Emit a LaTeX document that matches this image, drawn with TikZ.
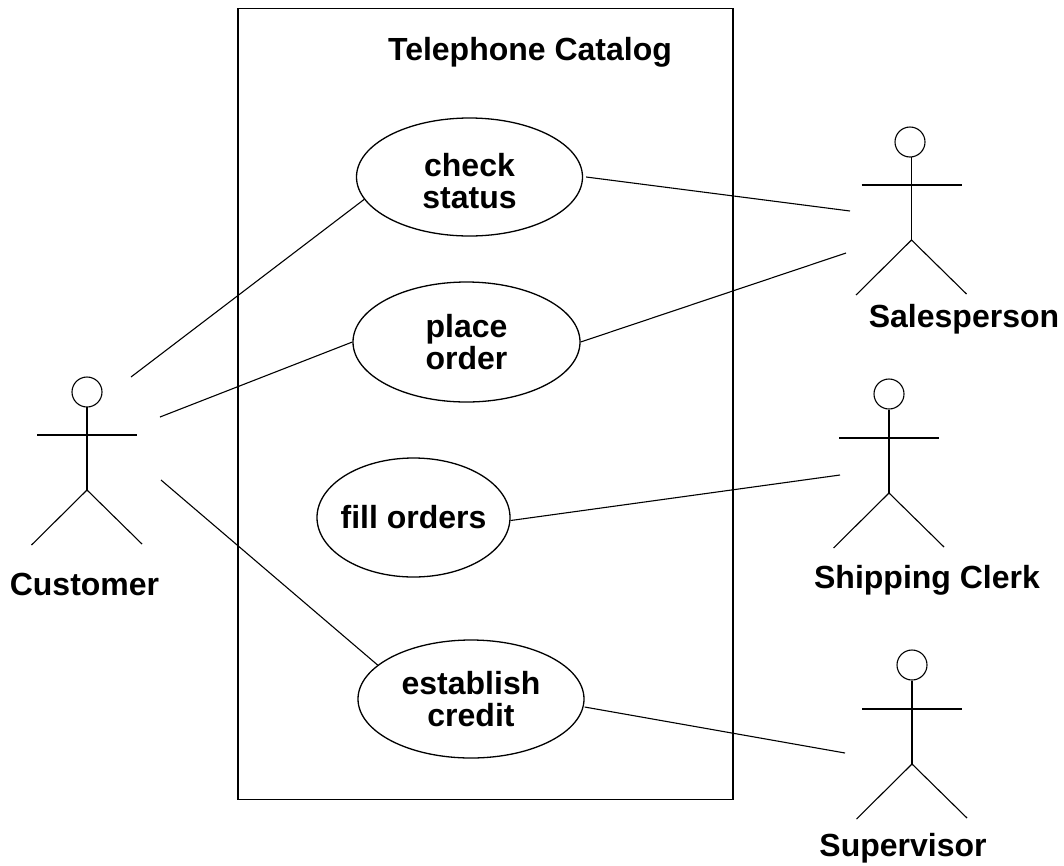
\documentclass[tikz,border=0pt]{standalone}
\usepackage{fontspec}
\setmainfont{Liberation Sans}
\usepackage{tikz}
\usetikzlibrary{shapes.geometric}

\tikzset{
  usecase/.style={ellipse,draw,line width=1.3pt,inner sep=0pt,align=center,font=\fontsize{32}{32}\selectfont\bfseries},
  actorhead/.style={circle,draw,line width=1.1pt,minimum size=30pt,inner sep=0pt},
  caption/.style={font=\fontsize{32}{32}\selectfont\bfseries,inner sep=0pt},
  actor/.pic={
    \draw[line width=1.6pt] (0,-28) -- (0,55) (-50,0) -- (50,0);
    \draw (-55.5,110) -- (0,55) -- (55,109);
  }
}

\begin{document}
\begin{tikzpicture}[x=1pt,y=-1pt,line width=1.1pt]
  \useasboundingbox (0,0) rectangle (1064,865);

  \node[draw,line width=1.7pt,minimum width=495pt,minimum height=791pt,inner sep=0pt] (system) at (485.5,404) {};
  \node[caption] (title) at (530,52) {Telephone Catalog};

  \node[usecase,minimum width=226pt,minimum height=118pt] (check) at (469.5,177) {\rule{0pt}{31pt}check\\status};
  \node[usecase,minimum width=227pt,minimum height=120pt] (place) at (466.5,342) {place\\order};
  \node[usecase,inner xsep=-6pt,minimum width=193pt,minimum height=119pt] (fill) at (413.5,517.5) {fill orders};
  \node[usecase,minimum width=226pt,minimum height=118pt] (credit) at (471,699) {establish\\credit};

  % actors
  \pic at (87,435) {actor};
  \pic at (911.5,185) {actor};
  \pic at (889,438) {actor};
  \pic at (912,709) {actor};
  \node[actorhead] (customerhead) at (87,392) {};
  \node[actorhead] (saleshead) at (910,142) {};
  \node[actorhead] (clerkhead) at (889,394) {};
  \node[actorhead] (superhead) at (912,665) {};

  \node[caption] (customer) at (84.5,584) {Customer};
  \node[caption] (sales) at (964,319) {Salesperson};
  \node[caption] (clerk) at (927,580) {Shipping Clerk};
  \node[caption] (super) at (903,848) {Supervisor};

  % free ends of the lines
  \coordinate (c1) at (131,377);
  \coordinate (c2) at (160,417);
  \coordinate (c3) at (161,480);
  \coordinate (s1) at (850,211);
  \coordinate (s2) at (846,253);
  \coordinate (k1) at (840,475);
  \coordinate (v1) at (845,753);

  \draw (c1) -- (check.192);
  \draw (c2) -- (place.west);
  \draw (c3) -- (credit.160);
  \draw (check.east) ++(3,0) -- (s1);
  \draw (place.east) -- (s2);
  \draw (fill.east) ++(0,3) -- (k1);
  \draw (credit.east) ++(0,8) -- (v1);
\end{tikzpicture}
\end{document}
